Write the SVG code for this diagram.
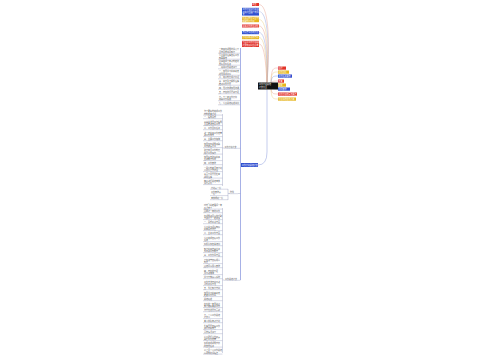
<svg xmlns="http://www.w3.org/2000/svg" width="500" height="360" viewBox="0 0 500 360">
<style>
.t{font-family:"Noto Sans CJK SC","Liberation Sans",sans-serif;font-size:2px;fill:#555}
.w{font-family:"Noto Sans CJK SC","Liberation Sans",sans-serif;font-size:2px;fill:#fff}
.u{stroke:#9aa0c0;stroke-width:0.4}
.c{fill:none;stroke-width:0.45}
.r{fill:#e2332b}.y{fill:#e6b51e}.b{fill:#2f4fd0}
</style>
<rect width="500" height="360" fill="#fff"/>
<g id="connectors">
<path class="c" stroke="#e8a090" d="M259,4.5 C271,4.5 269,60 267,82.5"/>
<path class="c" stroke="#8ea0e0" d="M259,11.5 C270,11.5 268.5,60 267,82.5"/>
<path class="c" stroke="#e8cc80" d="M259,19.5 C269,19.5 268,62 267,82.5"/>
<path class="c" stroke="#e8a090" d="M259,26 C268,26 267.5,62 267,82.5"/>
<path class="c" stroke="#8ea0e0" d="M259,32.5 C267,32.5 267,64 267,82.5"/>
<path class="c" stroke="#e8cc80" d="M259,37.5 C266,37.5 266.5,66 267,82.5"/>
<path class="c" stroke="#e8a090" d="M259,44 C265,44 266,68 267,82.5"/>
<path class="c" stroke="#e8a090" d="M271,86 C271,68 273,68 278,68"/>
<path class="c" stroke="#e8cc80" d="M271,86 C271,72 273,72 278,72"/>
<path class="c" stroke="#8ea0e0" d="M271,86 C271,76 273,76 278,76"/>
<path class="c" stroke="#e8a090" d="M271,86 C271,81 273,81 278,81"/>
<path class="c" stroke="#e8cc80" d="M271,86 C272,85 273,85 278,85"/>
<path class="c" stroke="#8ea0e0" d="M271,86 C271,89 273,89 278,89"/>
<path class="c" stroke="#e8a090" d="M271,86 C271,94 273,94 278,94"/>
<path class="c" stroke="#e8cc80" d="M271,86 C271,99 273,99 278,99"/>
<path class="c" stroke="#7d8fd8" d="M267,89.5 L267,152 Q267,165 258,165"/>
<path class="c" stroke="#3a50c8" d="M240.5,48 L240.5,280"/>
<path class="c" stroke="#9aa0c0" d="M222.5,114 L222.5,186 M222.5,148 L224,148"/>
<path class="c" stroke="#9aa0c0" d="M228,189 L228,200 M228,193.5 L230,193.5"/>
<path class="c" stroke="#9aa0c0" d="M222.5,208 L222.5,353 M222.5,280 L224,280"/>
<path class="c" stroke="#9aa0c0" d="M238,193.5 L240.5,193.5"/>
</g>
<g id="root"><rect x="258" y="82.5" width="20" height="7" fill="#111"/><text x="259" y="85.3" class="w">工作计划总结</text><text x="259" y="88.1" class="w">范文大全</text></g>
<g id="r1"><rect x="278" y="66.5" width="8" height="3.2" class="r"/><text x="278.6" y="68.8" class="w">标题</text></g>
<g id="r2"><rect x="278" y="70.5" width="11" height="3.2" class="y"/><text x="278.6" y="72.8" class="w">工作目标</text></g>
<g id="r3"><rect x="278" y="74.5" width="14" height="3.2" class="b"/><text x="278.6" y="76.8" class="w">工作任务要求</text></g>
<g id="r4"><rect x="278" y="79.5" width="6" height="3.2" class="r"/><text x="278.6" y="81.8" class="w">步骤</text></g>
<g id="r5"><rect x="278" y="83.5" width="8" height="3.2" class="y"/><text x="278.6" y="85.8" class="w">措施</text></g>
<g id="r6"><rect x="278" y="87.5" width="12" height="3.2" class="b"/><text x="278.6" y="89.8" class="w">时间安排</text></g>
<g id="r7"><rect x="278" y="92.5" width="19" height="3.2" class="r"/><text x="278.6" y="94.8" class="w">工作计划的写法要点</text></g>
<g id="r8"><rect x="278" y="97.5" width="18" height="3.2" class="y"/><text x="278.6" y="99.8" class="w">计划书的格式范本</text></g>
<g id="t1"><rect x="252" y="3" width="7" height="3" class="r"/><text x="252.6" y="5.2" class="w">前言</text></g>
<g id="t2"><rect x="242" y="7.8" width="17" height="7.8" class="b"/><text x="242.6" y="10" class="w">工作计划是行政活动中</text><text x="242.6" y="12.5" class="w">使用范围很广的重要公</text><text x="242.6" y="15" class="w">文</text></g>
<g id="t3"><rect x="242" y="16.8" width="17" height="5.4" class="y"/><text x="242.6" y="19" class="w">机关团体企事业单位</text><text x="242.6" y="21.5" class="w">都要制订计划</text></g>
<g id="t4"><rect x="242" y="24.5" width="17" height="3" class="r"/><text x="242.6" y="26.7" class="w">提高工作的主动性</text></g>
<g id="t5"><rect x="242" y="31" width="17" height="3.2" class="b"/><text x="242.6" y="33.3" class="w">有利于工作的开展</text></g>
<g id="t6"><rect x="242" y="36" width="17" height="3.2" class="y"/><text x="242.6" y="38.3" class="w">计划是前进的方向</text></g>
<g id="t7"><rect x="242" y="40.8" width="17" height="6.2" class="r"/><text x="242.6" y="43" class="w">下面是工作计划总结</text><text x="242.6" y="45.5" class="w">范文欢迎阅读参考</text></g>
<g id="blue"><rect x="241" y="163" width="17" height="4" class="b"/><text x="241.8" y="165.8" class="w">工作计划总结范文</text></g>
<g id="g1">
<g id="a1"><text x="219" y="50" class="t">一年来在领导的关心下</text><text x="219" y="52.5" class="t">全体同志共同努力</text><line x1="218" y1="53.2" x2="240" y2="53.2" class="u"/></g>
<g id="a2"><text x="219" y="56" class="t">认真贯彻落实各项工作</text><text x="219" y="58.5" class="t">部署要求</text><line x1="218" y1="59.2" x2="240" y2="59.2" class="u"/></g>
<g id="a3"><text x="219" y="62" class="t">圆满完成了年初制定的</text><text x="219" y="64.5" class="t">各项目标任务</text><line x1="218" y1="65.2" x2="240" y2="65.2" class="u"/></g>
<g id="a4"><text x="221" y="68" class="t">现将工作总结如下</text><line x1="218" y1="68.8" x2="240" y2="68.8" class="u"/></g>
<g id="a5"><text x="219" y="72" class="t">一、加强学习提高素质</text><text x="219" y="74.5" class="t">增强服务意识</text><line x1="218" y1="75.2" x2="240" y2="75.2" class="u"/></g>
<g id="a6"><text x="219" y="78" class="t">二、完善制度规范管理</text><line x1="218" y1="78.8" x2="240" y2="78.8" class="u"/></g>
<g id="a7"><text x="219" y="82" class="t">三、突出重点狠抓落实</text><text x="219" y="84.5" class="t">推动工作开展</text><line x1="218" y1="85.2" x2="240" y2="85.2" class="u"/></g>
<g id="a8"><text x="219" y="88.5" class="t">四、强化协调加强沟通</text><line x1="218" y1="89.3" x2="240" y2="89.3" class="u"/></g>
<g id="a9"><text x="219" y="93" class="t">五、存在的问题和不足</text><line x1="218" y1="93.8" x2="240" y2="93.8" class="u"/></g>
<g id="a10"><text x="219" y="97.5" class="t">六、下一步工作打算</text><text x="219" y="100" class="t">明确工作思路</text><line x1="218" y1="100.7" x2="240" y2="100.7" class="u"/></g>
<g id="a11"><text x="219" y="104" class="t">七、认真总结经验教训</text><line x1="218" y1="104.8" x2="240" y2="104.8" class="u"/></g>
</g>
<g id="g2">
<g id="lab2"><text x="224.5" y="147.6" class="t">工作计划范文</text><line x1="224" y1="148.3" x2="240.5" y2="148.3" class="u"/></g>
<g id="b1"><text x="204" y="112" class="t">为了更好地完成工作</text><text x="204" y="114.5" class="t">特制定本计划</text><line x1="203" y1="115.1" x2="222.5" y2="115.1" class="u"/></g>
<g id="b2"><text x="204" y="118" class="t">一、指导思想</text><line x1="203" y1="118.7" x2="222.5" y2="118.7" class="u"/></g>
<g id="b3"><text x="204" y="122.5" class="t">以科学发展观为指导</text><text x="204" y="125" class="t">全面推进各项工作</text><line x1="203" y1="125.6" x2="222.5" y2="125.6" class="u"/></g>
<g id="b4"><text x="204" y="129" class="t">二、工作目标任务</text><line x1="203" y1="129.7" x2="222.5" y2="129.7" class="u"/></g>
<g id="b5"><text x="204" y="133.5" class="t">进一步提高工作质量</text><text x="204" y="136" class="t">和工作效率</text><line x1="203" y1="136.6" x2="222.5" y2="136.6" class="u"/></g>
<g id="b6"><text x="204" y="140" class="t">三、主要工作措施</text><line x1="203" y1="140.7" x2="222.5" y2="140.7" class="u"/></g>
<g id="b7"><text x="204" y="144.5" class="t">加强组织领导明确</text><text x="204" y="147" class="t">工作职责分工</text><line x1="203" y1="147.6" x2="222.5" y2="147.6" class="u"/></g>
<g id="b8"><text x="204" y="151" class="t">建立健全工作制度</text><text x="204" y="153.5" class="t">规范工作程序</text><line x1="203" y1="154.1" x2="222.5" y2="154.1" class="u"/></g>
<g id="b9"><text x="204" y="157.5" class="t">加强队伍建设提高</text><text x="204" y="160" class="t">业务能力水平</text><line x1="203" y1="160.6" x2="222.5" y2="160.6" class="u"/></g>
<g id="b10"><text x="204" y="164" class="t">四、工作安排</text><line x1="203" y1="164.7" x2="222.5" y2="164.7" class="u"/></g>
<g id="b11"><text x="204" y="168.5" class="t">一月份制定全年计划</text><text x="204" y="171" class="t">二月份召开会议</text><line x1="203" y1="171.6" x2="222.5" y2="171.6" class="u"/></g>
<g id="b12"><text x="204" y="175" class="t">三至六月开展检查</text><text x="204" y="177.5" class="t">督促落实</text><line x1="203" y1="178.1" x2="222.5" y2="178.1" class="u"/></g>
<g id="b13"><text x="204" y="181.5" class="t">年底进行总结考核</text><text x="204" y="184" class="t">评比表彰</text><line x1="203" y1="184.6" x2="222.5" y2="184.6" class="u"/></g>
</g>
<g id="g3">
<g id="lab3"><text x="230" y="193" class="t">附件</text><line x1="229.5" y1="193.7" x2="238" y2="193.7" class="u"/></g>
<g id="c1"><text x="211" y="188.5" class="t">计划表一份</text><line x1="210" y1="189.2" x2="228" y2="189.2" class="u"/></g>
<g id="c2"><text x="211" y="192.5" class="t">工作安排表</text><text x="211" y="195" class="t">一份</text><line x1="210" y1="195.6" x2="228" y2="195.6" class="u"/></g>
<g id="c3"><text x="211" y="199" class="t">考核细则一份</text><line x1="210" y1="199.7" x2="228" y2="199.7" class="u"/></g>
</g>
<g id="g4">
<g id="lab4"><text x="225" y="279.6" class="t">工作总结范文</text><line x1="224" y1="280.3" x2="240.5" y2="280.3" class="u"/></g>
<g id="d1"><text x="204" y="206" class="t">时光飞逝转眼间一年</text><text x="204" y="208.5" class="t">又过去了</text><line x1="203" y1="209.1" x2="222.5" y2="209.1" class="u"/></g>
<g id="d2"><text x="204" y="212" class="t">回顾这一年的工作</text><line x1="203" y1="212.7" x2="222.5" y2="212.7" class="u"/></g>
<g id="d3"><text x="204" y="216.5" class="t">在领导和同事的帮助</text><text x="204" y="219" class="t">下取得了一定成绩</text><line x1="203" y1="219.6" x2="222.5" y2="219.6" class="u"/></g>
<g id="d4"><text x="204" y="223" class="t">一、思想政治方面</text><line x1="203" y1="223.7" x2="222.5" y2="223.7" class="u"/></g>
<g id="d5"><text x="204" y="227.5" class="t">认真学习理论知识</text><text x="204" y="230" class="t">提高思想觉悟</text><line x1="203" y1="230.6" x2="222.5" y2="230.6" class="u"/></g>
<g id="d6"><text x="204" y="234" class="t">二、业务工作方面</text><line x1="203" y1="234.7" x2="222.5" y2="234.7" class="u"/></g>
<g id="d7"><text x="204" y="238.5" class="t">认真完成各项工作</text><text x="204" y="241" class="t">任务</text><line x1="203" y1="241.6" x2="222.5" y2="241.6" class="u"/></g>
<g id="d8"><text x="204" y="245" class="t">积极参加各类培训</text><line x1="203" y1="245.7" x2="222.5" y2="245.7" class="u"/></g>
<g id="d9"><text x="204" y="249.5" class="t">努力提高自身业务</text><text x="204" y="252" class="t">水平和工作能力</text><line x1="203" y1="252.6" x2="222.5" y2="252.6" class="u"/></g>
<g id="d10"><text x="204" y="256" class="t">三、工作作风方面</text><line x1="203" y1="256.7" x2="222.5" y2="256.7" class="u"/></g>
<g id="d11"><text x="204" y="260.5" class="t">严格遵守各项规章</text><text x="204" y="263" class="t">制度</text><line x1="203" y1="263.6" x2="222.5" y2="263.6" class="u"/></g>
<g id="d12"><text x="204" y="267" class="t">团结同事服从安排</text><line x1="203" y1="267.7" x2="222.5" y2="267.7" class="u"/></g>
<g id="d13"><text x="204" y="271.5" class="t">四、存在的不足</text><text x="204" y="274" class="t">及改进措施</text><line x1="203" y1="274.6" x2="222.5" y2="274.6" class="u"/></g>
<g id="d14"><text x="204" y="278" class="t">学习不够深入系统</text><line x1="203" y1="278.7" x2="222.5" y2="278.7" class="u"/></g>
<g id="d15"><text x="204" y="282.5" class="t">工作方法有待改进</text><text x="204" y="285" class="t">创新意识不强</text><line x1="203" y1="285.6" x2="222.5" y2="285.6" class="u"/></g>
<g id="d16"><text x="204" y="289" class="t">五、今后努力方向</text><line x1="203" y1="289.7" x2="222.5" y2="289.7" class="u"/></g>
<g id="d17"><text x="204" y="293.5" class="t">加强学习提高素质</text><text x="204" y="296" class="t">转变工作作风</text><line x1="203" y1="296.6" x2="222.5" y2="296.6" class="u"/></g>
<g id="d18"><text x="204" y="300" class="t">总结经验</text><line x1="203" y1="300.7" x2="222.5" y2="300.7" class="u"/></g>
<g id="d19"><text x="204" y="304.5" class="t">在新的一年里继续</text><text x="204" y="307" class="t">努力做好本职工作</text><line x1="203" y1="307.6" x2="222.5" y2="307.6" class="u"/></g>
<g id="d20"><text x="204" y="311" class="t">为单位发展作贡献</text><line x1="203" y1="311.7" x2="222.5" y2="311.7" class="u"/></g>
<g id="d21"><text x="204" y="315.5" class="t">六、个人工作总结</text><text x="204" y="318" class="t">范文二</text><line x1="203" y1="318.6" x2="222.5" y2="318.6" class="u"/></g>
<g id="d22"><text x="204" y="322" class="t">本人按照年初计划</text><line x1="203" y1="322.7" x2="222.5" y2="322.7" class="u"/></g>
<g id="d23"><text x="204" y="326.5" class="t">扎实开展各项工作</text><text x="204" y="329" class="t">取得较好效果</text><line x1="203" y1="329.6" x2="222.5" y2="329.6" class="u"/></g>
<g id="d24"><text x="204" y="333" class="t">具体情况如下</text><line x1="203" y1="333.7" x2="222.5" y2="333.7" class="u"/></g>
<g id="d25"><text x="204" y="337.5" class="t">认真履行岗位职责</text><text x="204" y="340" class="t">确保工作质量</text><line x1="203" y1="340.6" x2="222.5" y2="340.6" class="u"/></g>
<g id="d26"><text x="204" y="344" class="t">积极完成领导交办</text><text x="204" y="346.5" class="t">的其他任务</text><line x1="203" y1="347.1" x2="222.5" y2="347.1" class="u"/></g>
<g id="d27"><text x="204" y="351" class="t">以上是个人工作总结</text><text x="204" y="353.5" class="t">请领导批评指正</text><line x1="203" y1="354.1" x2="222.5" y2="354.1" class="u"/></g>
</g>
</svg>
